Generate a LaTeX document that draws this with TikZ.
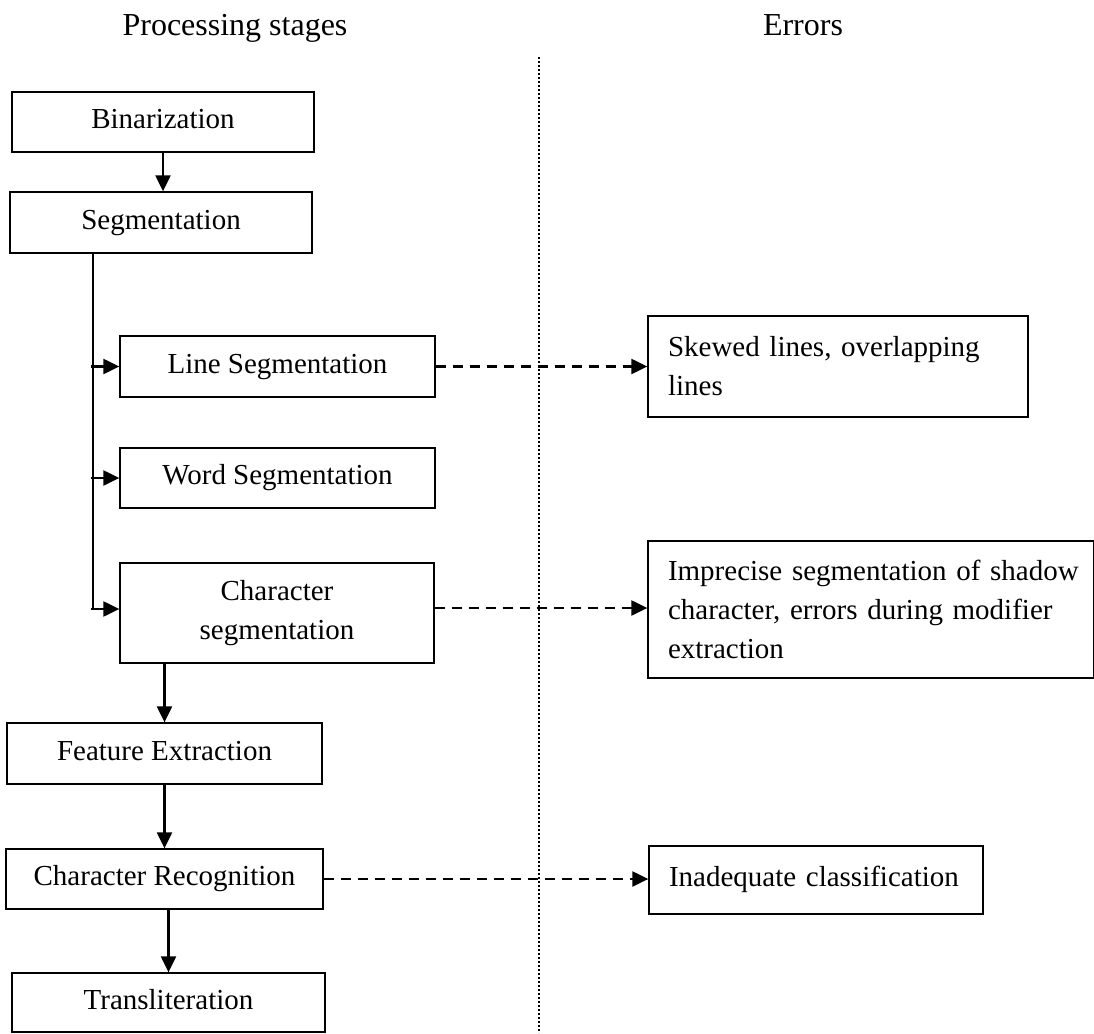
\documentclass[tikz,border=0pt]{standalone}
\usepackage{fontspec}
\setmainfont{Liberation Serif}
\usetikzlibrary{arrows.meta}
\begin{document}
\begin{tikzpicture}[x=1pt,y=-1pt,
  box/.style={draw, line width=1.3pt, inner sep=0pt, font=\fontsize{29}{39}\selectfont},
  single/.style={box, text height=20pt, text depth=7pt},
  errbox/.style={box, align=left, inner xsep=20pt},
  head/.style={font=\fontsize{32}{38}\selectfont, inner sep=0pt, anchor=base},
  arr/.style={-{Triangle[length=16pt,width=15pt]}, line width=2.2pt},
  darr/.style={arr, dash pattern=on 10pt off 7pt},
  trunk/.style={line width=2.2pt},
  dotl/.style={line width=1.5pt, dash pattern=on 1.6pt off 2.4pt}]
\useasboundingbox (0,0) rectangle (1094,1033);
% headers
\node[head] (h1) at (235,36) {Processing stages};
\node[head] (h2) at (803,36) {Errors};
% divider
\coordinate (dtop) at (539,57);
\coordinate (dbot) at (539,1033);
\draw[dotl] (dtop) -- (dbot);
% processing boxes
\node[single, minimum width=302pt, minimum height=60pt] (bin) at (163,122) {Binarization};
\node[single, minimum width=302pt, minimum height=61pt] (seg) at (161,222.5) {Segmentation};
\node[single, minimum width=315pt, minimum height=61pt] (lseg) at (277.5,366.5) {Line Segmentation};
\node[single, minimum width=315pt, minimum height=60pt] (wseg) at (277.5,478) {Word Segmentation};
\node[box, align=center, minimum width=314pt, minimum height=100pt] (cseg) at (277,613) {Character\\segmentation};
\node[single, minimum width=315pt, minimum height=61pt] (feat) at (164.5,753.5) {Feature Extraction};
\node[single, minimum width=317pt, minimum height=60pt] (crec) at (164.5,879) {Character Recognition};
\node[single, minimum width=313pt, minimum height=59pt] (trans) at (168.5,1002.5) {Transliteration};
% error boxes
\node[errbox, text width=340pt, minimum height=101pt] (e1) at (838,366.5) {\mbox{Skewed lines, overlapping}\\lines};
\node[errbox, inner xsep=20pt, text width=405.5pt, minimum height=137pt] (e2) at (870.75,609.5) {\mbox{Imprecise segmentation of shadow}\\\mbox{character, errors during modifier}\\extraction};
\node[errbox, text width=294pt, minimum height=68pt, text height=20pt, text depth=7pt] (e3) at (816,880) {Inadequate classification};
% main flow
\draw[arr] (bin.south) -- (bin.south |- seg.north);
\coordinate (tr) at (93,0);
\coordinate (cbr) at ([yshift=4pt]cseg.west);
\draw[trunk] (tr |- seg.south) -- (tr |- cbr);
\draw[arr] ([xshift=-2pt]tr |- lseg.west) -- (lseg.west);
\draw[arr] ([xshift=-2pt]tr |- wseg.west) -- (wseg.west);
\draw[arr] ([xshift=-2pt]tr |- cbr) -- (cbr);
\draw[arr] (cseg.south -| feat.north) -- (feat.north);
\draw[arr] (feat.south) -- (feat.south |- crec.north);
\draw[arr] (crec.south -| trans.north) -- (trans.north);
% error links
\draw[darr] (lseg.east) -- (lseg.east -| e1.west);
\coordinate (cer) at ([yshift=5pt]cseg.east);
\draw[darr] (cer) -- (cer -| e2.west);
\draw[darr] (crec.east) -- (crec.east -| e3.west);
\end{tikzpicture}
\end{document}
